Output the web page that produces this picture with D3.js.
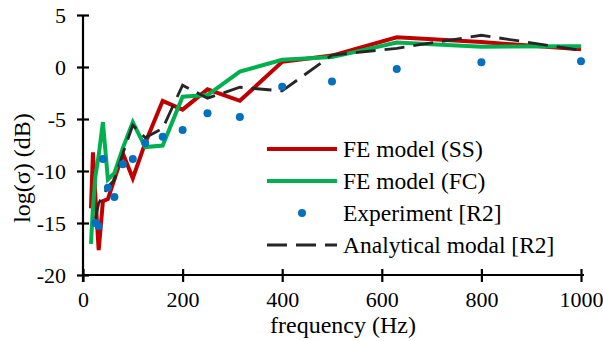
<!DOCTYPE html>
<html><head><meta charset="utf-8">
<script src="https://cdn.jsdelivr.net/npm/d3@7"></script>
<style>
body{margin:0;background:#fff;}
</style></head>
<body><svg id="c" width="603" height="341"></svg>
<script>
const feFreq = [16,20,25,31.5,40,50,63,80,100,125,160,200,250,315,400,500,630,800,1000];
const feSS   = [-13.6,-8.2,-12.5,-17.6,-12.9,-12.7,-10.8,-8.3,-10.7,-7.3,-3.25,-4.1,-2.15,-3.25,0.5,1.1,2.85,2.4,1.7];
const feFC   = [-17.0,-13.5,-10.5,-8.5,-5.3,-10.8,-10.2,-7.8,-5.3,-7.7,-7.55,-2.85,-2.7,-0.45,0.7,0.95,2.35,1.95,2.0];
const expFreq = [25,31.5,40,50,63,80,100,125,160,200,250,315,400,500,630,800,1000];
const expVal  = [-15.0,-15.3,-8.85,-11.6,-12.5,-9.35,-8.85,-7.3,-6.7,-6.05,-4.45,-4.8,-1.9,-1.4,-0.2,0.45,0.55];
const anaFreq = [25,31.5,40,50,63,80,100,125,160,200,250,315,400,500,630,800,1000];
const anaVal  = [-14.6,-13.1,-12.4,-11.5,-10.9,-8.3,-5.6,-6.8,-5.9,-1.75,-3.0,-1.95,-2.3,1.15,1.8,3.05,1.6];
const xTicks = [0,200,400,600,800,1000];
const yTicks = [5,0,-5,-10,-15,-20];
const seriesNames = ["FE model (SS)","FE model (FC)","Experiment [R2]","Analytical modal [R2]"];

const FONT = "'Liberation Serif', 'Times New Roman', Tinos, 'DejaVu Serif', serif";
const svg = d3.select("#c");
const x = d3.scaleLinear().domain([0,1000]).range([83,581]);
const y = d3.scaleLinear().domain([-20,5]).range([275,15]);

const line = d3.line().x(d=>x(d[0])).y(d=>y(d[1]));
const zip = (a,b)=>a.map((v,i)=>[v,b[i]]);

// axes
const ya = svg.append("g").attr("transform","translate(83,0)")
  .call(d3.axisLeft(y).tickValues(yTicks).tickSizeOuter(0).tickFormat(d=>d<0?"-"+Math.abs(d):String(d)));
ya.select(".domain").attr("stroke","#000").attr("stroke-width",2.2).attr("d","M0,15V282");
ya.selectAll(".tick line").attr("x1",-6).attr("x2",6).attr("stroke","#000").attr("stroke-width",2.2);
ya.selectAll(".tick text").attr("x",-17).style("font-size","22px");

const xa = svg.append("g").attr("transform","translate(0,275)")
  .call(d3.axisBottom(x).tickValues(xTicks).tickSizeOuter(0).tickFormat(d3.format("d")));
xa.select(".domain").attr("stroke","#000").attr("stroke-width",2.2).attr("d","M82,0H584");
xa.selectAll(".tick line").attr("y1",-6).attr("y2",7).attr("stroke","#000").attr("stroke-width",2.2);
xa.selectAll(".tick text").attr("y",16).style("font-size","22px");

svg.append("text").attr("x",343).attr("y",333).attr("text-anchor","middle")
  .style("font-size","24px").text("frequency (Hz)");
svg.append("text").attr("transform","translate(30,168) rotate(-90)").attr("text-anchor","middle")
  .style("font-size","24px").text("log(σ) (dB)");

// series
svg.append("path").datum(zip(feFreq,feSS)).attr("d",line).attr("fill","none")
  .attr("stroke","#C00000").attr("stroke-width",4).attr("stroke-linejoin","miter");
svg.append("path").datum(zip(feFreq,feFC)).attr("d",line).attr("fill","none")
  .attr("stroke","#00B050").attr("stroke-width",4).attr("stroke-linejoin","miter");
svg.append("path").datum(zip(anaFreq,anaVal)).attr("d",line).attr("fill","none")
  .attr("stroke","#262626").attr("stroke-width",2.8).attr("stroke-dasharray","20,9");
svg.append("g").selectAll("circle").data(zip(expFreq,expVal)).join("circle")
  .attr("cx",d=>x(d[0])).attr("cy",d=>y(d[1])).attr("r",4).attr("fill","#0070C0");

// legend
const lg = svg.append("g");
const ly = [149,181,213,245];
lg.append("line").attr("x1",267).attr("x2",337).attr("y1",ly[0]).attr("y2",ly[0]).attr("stroke","#C00000").attr("stroke-width",4);
lg.append("line").attr("x1",267).attr("x2",337).attr("y1",ly[1]).attr("y2",ly[1]).attr("stroke","#00B050").attr("stroke-width",4);
lg.append("circle").attr("cx",302).attr("cy",ly[2]).attr("r",4).attr("fill","#0070C0");
lg.append("line").attr("x1",267).attr("x2",337).attr("y1",ly[3]).attr("y2",ly[3]).attr("stroke","#262626").attr("stroke-width",2.8).attr("stroke-dasharray","20,9");
lg.selectAll("text").data(seriesNames).join("text").attr("x",343).attr("y",(d,i)=>ly[i]).attr("dy","0.34em")
  .style("font-size","23.5px").text(d=>d);

svg.selectAll("text").style("font-family",FONT).attr("fill","#000");
svg.selectAll("g").attr("font-family",null).attr("font-size",null);
</script></body></html>
